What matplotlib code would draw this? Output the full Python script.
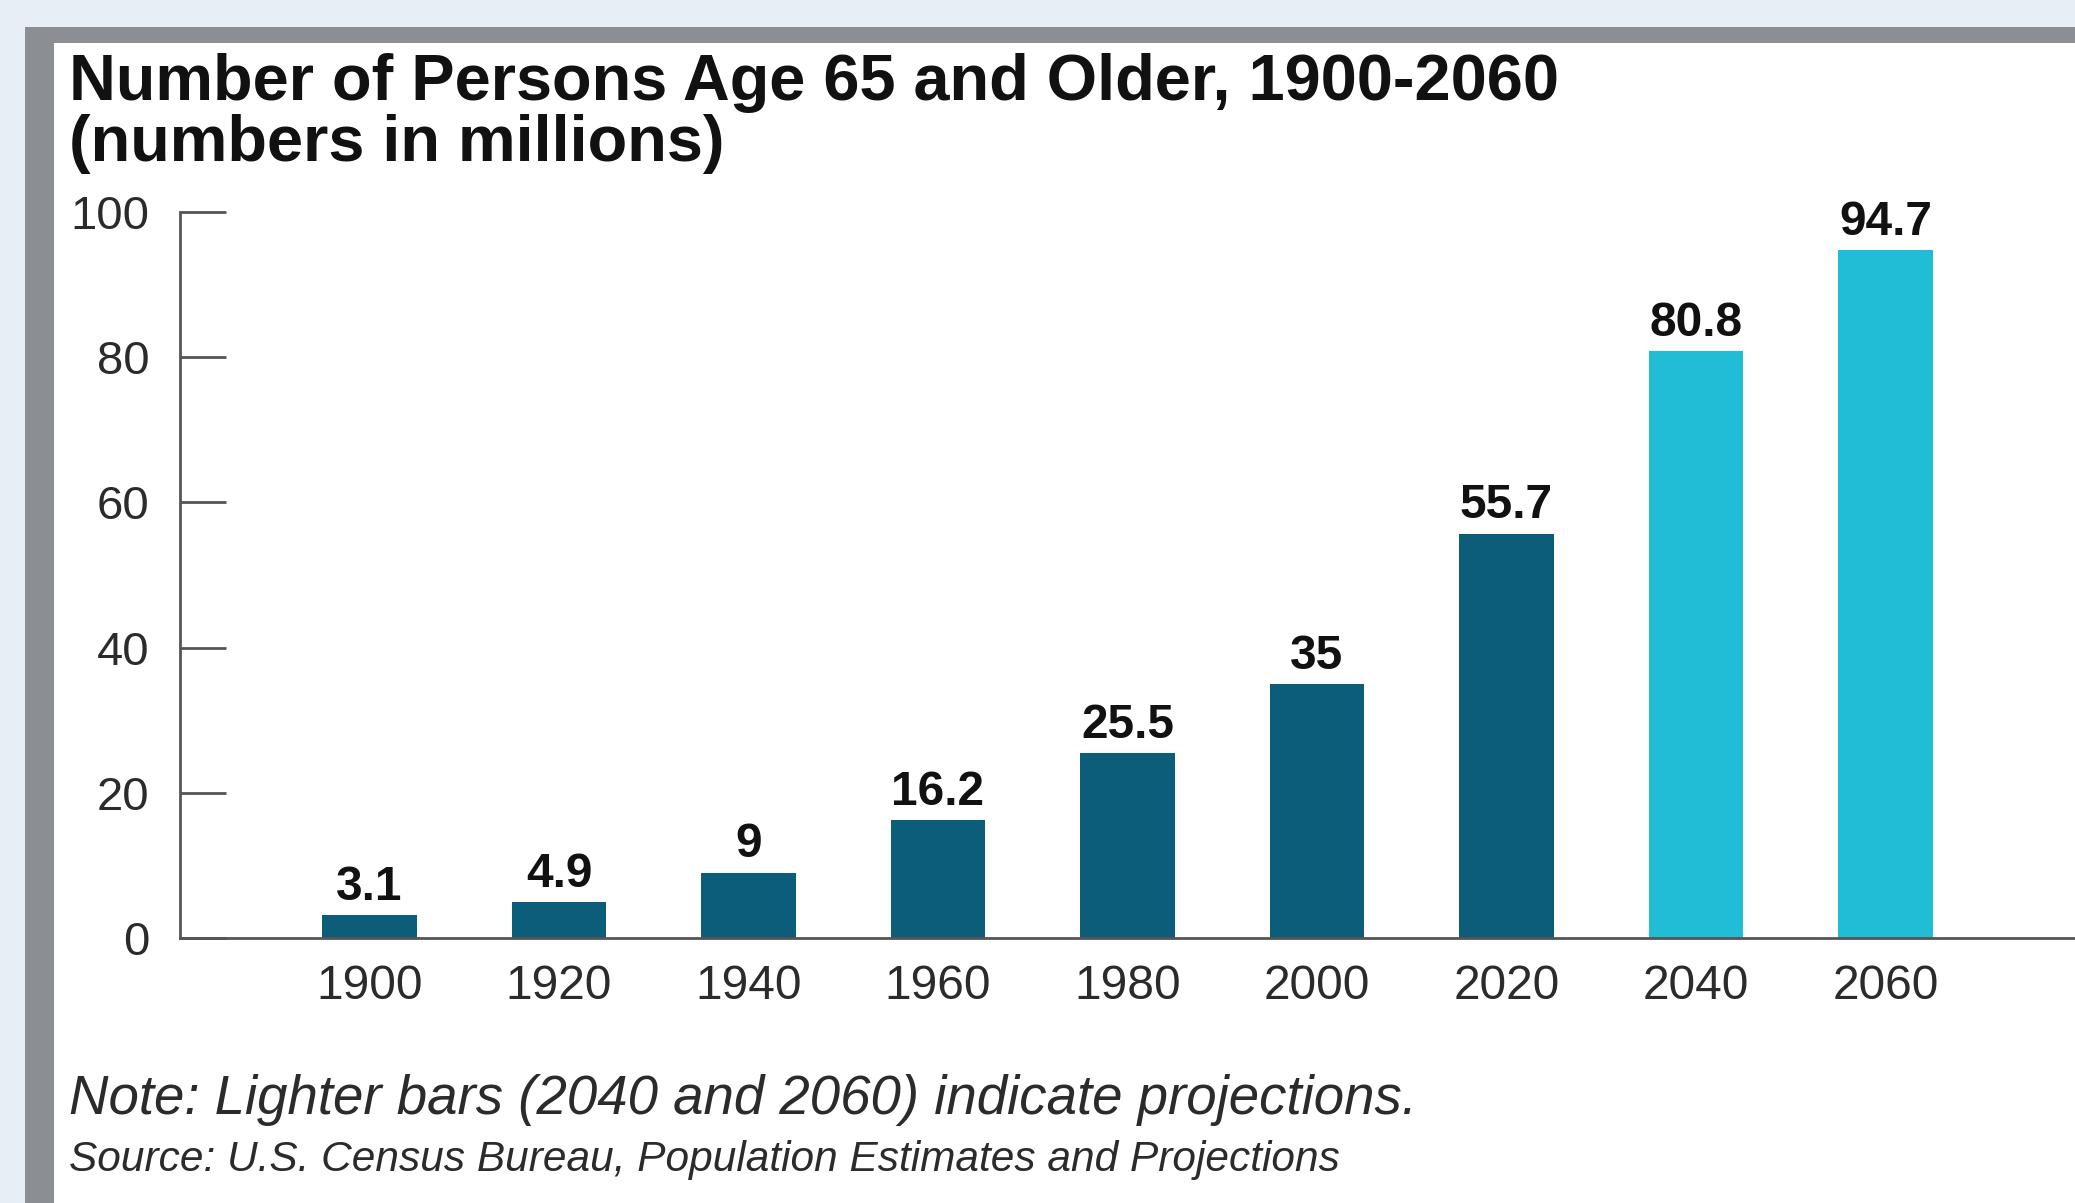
import matplotlib.pyplot as plt
from matplotlib.patches import Rectangle

# data
years = ['1900', '1920', '1940', '1960', '1980', '2000', '2020', '2040', '2060']
persons = [3.1, 4.9, 9, 16.2, 25.5, 35, 55.7, 80.8, 94.7]
projected = [False, False, False, False, False, False, False, True, True]
value_labels = ['3.1', '4.9', '9', '16.2', '25.5', '35', '55.7', '80.8', '94.7']

dark = '#0B5D7A'
light = '#21BDD7'

plt.rcParams['font.family'] = ['Liberation Sans', 'DejaVu Sans']

W, H = 2075, 1203
fig = plt.figure(figsize=(W / 100, H / 100), dpi=100, facecolor='#E8EEF6')

# page frame: grey border with white panel (kept behind the axes)
fig.patches.append(Rectangle((25 / W, 0), 1, 1 - 27 / H, transform=fig.transFigure,
                             facecolor='#8B8F93', edgecolor='none', zorder=-10))
fig.patches.append(Rectangle((54 / W, 0), 1, 1 - 43 / H, transform=fig.transFigure,
                             facecolor='white', edgecolor='none', zorder=-9))

ax = fig.add_axes([180 / W, 1 - 938 / H, 1 - 180 / W, (938 - 212) / H])
ax.set_facecolor('none')
ax.set_zorder(5)

x = range(len(years))
colors = [light if p else dark for p in projected]
bars = ax.bar(x, persons, width=0.5, color=colors)

for b, lab in zip(bars, value_labels):
    ax.annotate(lab, (b.get_x() + b.get_width() / 2, b.get_height()),
                xytext=(0, 11), textcoords='offset points', ha='center', va='baseline',
                fontsize=34.5, fontweight='bold', color='#111111')

ax.set_xlim(-1, 9)
ax.set_ylim(0, 100)
ax.set_yticks([0, 20, 40, 60, 80, 100])
ax.set_xticks(list(x))
ax.set_xticklabels(years)

for s in ['top', 'right']:
    ax.spines[s].set_visible(False)
for s in ['left', 'bottom']:
    ax.spines[s].set_color('#555555')
    ax.spines[s].set_linewidth(2)

ax.tick_params(axis='y', direction='in', length=33, width=2, color='#555555',
               pad=22, labelsize=34, labelcolor='#2B2B2B')
ax.tick_params(axis='x', length=0, pad=19, labelsize=34.5, labelcolor='#2B2B2B')

fig.text(69 / W, 1 - 100 / H, 'Number of Persons Age 65 and Older, 1900-2060',
         fontsize=46.7, fontweight='bold', color='#111111', va='baseline')
fig.text(69 / W, 1 - 161 / H, '(numbers in millions)',
         fontsize=46.7, fontweight='bold', color='#111111', va='baseline')

fig.text(69 / W, 1 - 1114 / H, 'Note: Lighter bars (2040 and 2060) indicate projections.',
         fontsize=39.3, style='italic', color='#2B2B2B', va='baseline')
fig.text(69 / W, 1 - 1171 / H, 'Source: U.S. Census Bureau, Population Estimates and Projections',
         fontsize=30.5, style='italic', color='#2B2B2B', va='baseline')

fig.savefig('out.png', dpi=100, facecolor=fig.get_facecolor())
